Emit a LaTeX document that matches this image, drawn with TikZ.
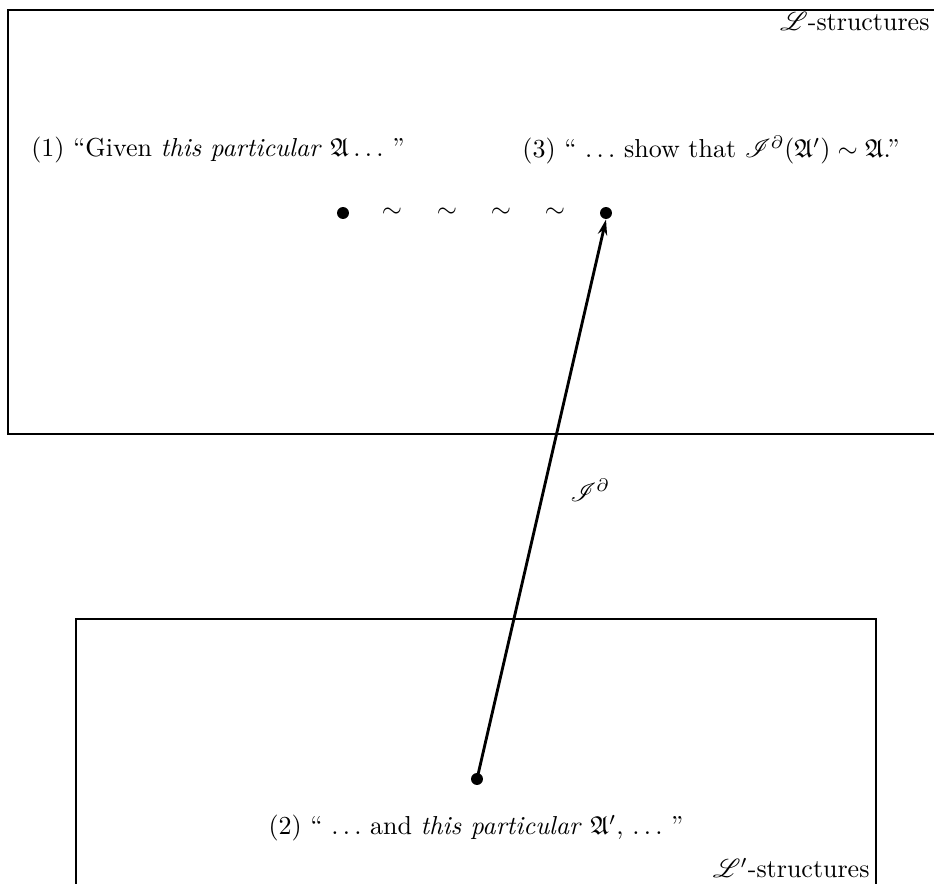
\documentclass[tikz,border=0pt]{standalone}
\usepackage{amssymb,mathrsfs}
\usetikzlibrary{arrows.meta}
\begin{document}
\begin{tikzpicture}[x=0.385pt,y=-0.385pt,
  box/.style={line width=0.8pt},
  pt/.style={circle,fill,inner sep=0pt,minimum size=4.6pt},
  lbl/.style={inner sep=0pt},
  conn/.style={line width=1.1pt,-{Stealth[length=6pt,width=3.6pt]}}]
\clip (0,0) rectangle (934,883);
\draw[box] (8,10) rectangle (960,434);
\draw[box] (76,619) rectangle (876,900);
\node[lbl,anchor=east] (Ls) at (930,22) {$\mathscr{L}$-structures};
\node[lbl,anchor=east] (Lps) at (870,868) {$\mathscr{L}'$-structures};
\node[lbl] (t1) at (218,150) {(1) ``Given \emph{this particular} $\mathfrak{A}\ldots$\ ''};
\node[lbl] (t3) at (711,150) {(3) `` $\ldots$\ show that $\mathscr{I}^{\partial}(\mathfrak{A}')\sim\mathfrak{A}$.''};
\node[lbl] (t2) at (476,828) {(2) `` $\ldots$\ and \emph{this particular} $\mathfrak{A}'$, $\ldots$\ ''};
\node[pt] (a) at (343,213) {};
\node[pt] (b) at (606,213) {};
\node[pt] (c) at (477,779) {};
\node[lbl] (s1) at (392,213) {$\sim$};
\node[lbl] (s2) at (447,213) {$\sim$};
\node[lbl] (s3) at (501,213) {$\sim$};
\node[lbl] (s4) at (555,213) {$\sim$};
\draw[conn] (c.center) -- (b.south);
\node[lbl] (f) at (590,490) {$\mathscr{I}^{\partial}$};
\end{tikzpicture}
\end{document}
